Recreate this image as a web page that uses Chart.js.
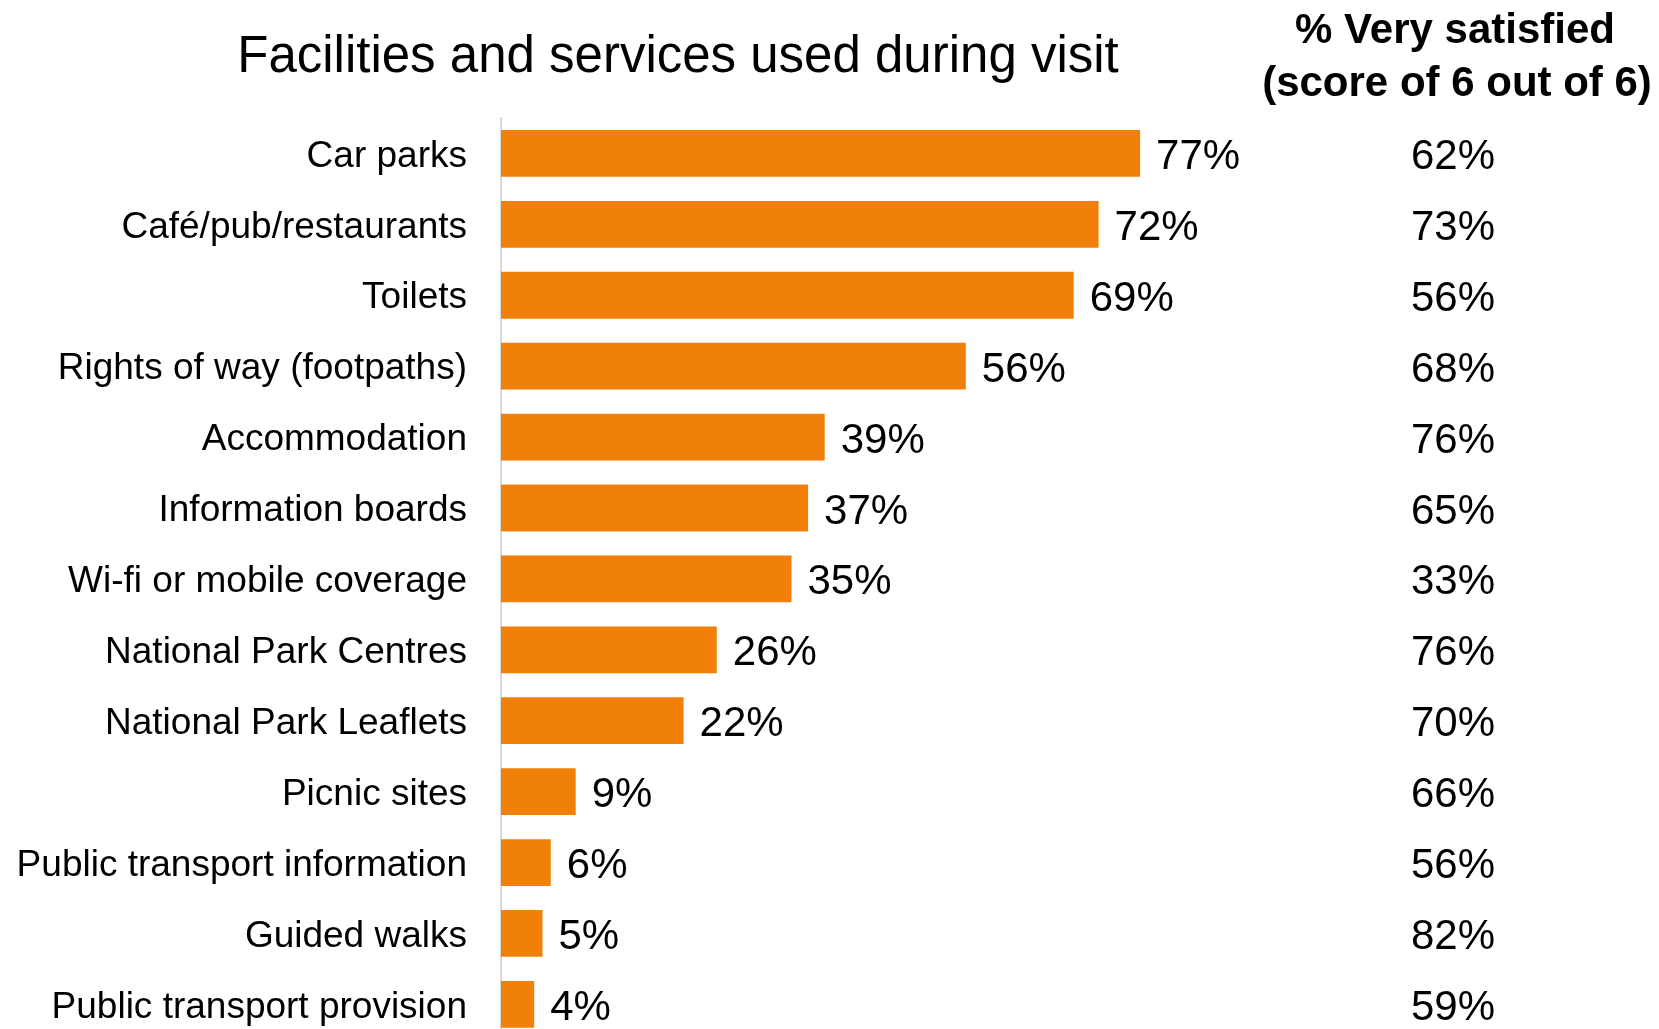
<!DOCTYPE html>
<html>
<head>
<meta charset="utf-8">
<script src="https://cdn.jsdelivr.net/npm/chart.js@4"></script>
<style>
  html, body { margin: 0; padding: 0; background: #fff; overflow: hidden; }
  #wrap { width: 1659px; height: 1096px; }
</style>
</head>
<body>
<div id="wrap"><canvas id="facilities-chart"></canvas></div>
<script>
// data
const categories = ['Car parks', 'Café/pub/restaurants', 'Toilets', 'Rights of way (footpaths)',
  'Accommodation', 'Information boards', 'Wi-fi or mobile coverage', 'National Park Centres',
  'National Park Leaflets', 'Picnic sites', 'Public transport information', 'Guided walks',
  'Public transport provision'];
const usedPct = [77, 72, 69, 56, 39, 37, 35, 26, 22, 9, 6, 5, 4];
const satisfiedPct = [62, 73, 56, 68, 76, 65, 33, 76, 70, 66, 56, 82, 59];
const chartTitle = 'Facilities and services used during visit';
const sideHeader = ['% Very satisfied', '(score of 6 out of 6)'];

const FONT = '"Liberation Sans", Arial, Helvetica, sans-serif';

// draws title, value labels and the satisfaction column
const annotations = {
  id: 'annotations',
  afterDatasetsDraw(chart) {
    const ctx = chart.ctx;
    const area = chart.chartArea;
    const meta = chart.getDatasetMeta(0);
    const colX = area.right + 122;
    ctx.save();
    ctx.fillStyle = '#000';
    ctx.textBaseline = 'middle';

    ctx.font = '51px ' + FONT;
    ctx.textAlign = 'center';
    ctx.fillText(chartTitle, 678, 58);

    ctx.font = 'bold 42px ' + FONT;
    ctx.fillText(sideHeader[0], colX + 2, 31);
    ctx.fillText(sideHeader[1], colX + 4, 84);

    ctx.font = '42px ' + FONT;
    meta.data.forEach((bar, i) => {
      ctx.textAlign = 'left';
      ctx.fillText(usedPct[i] + '%', bar.x + 16, bar.y + 4);
      ctx.textAlign = 'center';
      ctx.fillText(satisfiedPct[i] + '%', colX, bar.y + 4);
    });
    ctx.restore();
  }
};

new Chart(document.getElementById('facilities-chart'), {
  type: 'bar',
  data: {
    labels: categories,
    datasets: [{
      data: usedPct,
      backgroundColor: '#F0800A',
      barPercentage: 0.66,
      categoryPercentage: 1
    }]
  },
  options: {
    indexAxis: 'y',
    responsive: true,
    maintainAspectRatio: false,
    animation: false,
    layout: { padding: { top: 118, right: 328, left: 0, bottom: 0 } },
    plugins: {
      legend: { display: false },
      tooltip: { enabled: false },
      title: { display: false }
    },
    scales: {
      x: { display: false, min: 0, max: 100 },
      y: {
        grid: { display: false, drawTicks: false },
        border: { display: true, color: '#d9d9d9', width: 2 },
        ticks: {
          color: '#000',
          padding: 34,
          labelOffset: 3,
          font: { family: FONT, size: 37 }
        },
        afterFit(scale) { scale.width = 501; }
      }
    }
  },
  plugins: [annotations]
});
</script>
</body>
</html>
